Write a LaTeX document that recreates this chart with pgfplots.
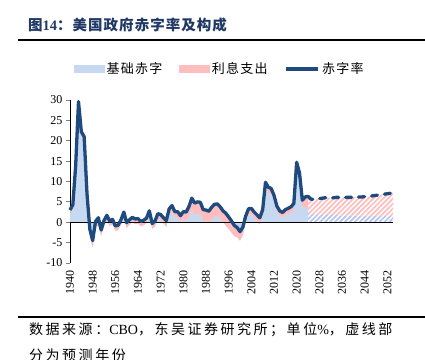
\documentclass[border=0pt]{standalone}
\usepackage{pgfplots}
\pgfplotsset{compat=1.18}
\usepackage{pgfplotstable}
\usepgfplotslibrary{fillbetween}
\usetikzlibrary{patterns.meta}
\usepackage{fontspec}
\setmainfont{Liberation Serif}
\newfontfamily\cjk{Noto Sans CJK SC}
\newfontfamily\cjktitle[LetterSpace=7]{Noto Sans CJK SC}
\newfontfamily\cjkleg[LetterSpace=10]{Noto Sans CJK SC}
\newfontfamily\cjkfoot[LetterSpace=18]{Noto Sans CJK SC}
\definecolor{cBlue}{HTML}{C6D9F1}
\definecolor{cPink}{HTML}{FFBDBD}
\definecolor{cLine}{HTML}{1F4A7E}
\definecolor{cTitle}{HTML}{1F3864}

\pgfplotstableread{
year def prim
1940 3.0 2.1
1941 4.3 3.5
1942 13.9 13.2
1943 29.6 28.7
1944 22.2 20.9
1945 21.0 19.5
1946 7.0 5.2
1947 -1.7 -3.4
1948 -4.5 -6.1
1949 0.2 -1.3
1950 1.1 -0.6
1951 -1.9 -3.3
1952 0.4 -0.9
1953 1.7 0.5
1954 0.3 -0.9
1955 0.7 -0.5
1956 -0.9 -2.1
1957 -0.7 -1.9
1958 0.6 -0.6
1959 2.5 1.3
1960 -0.1 -1.4
1961 0.6 -0.6
1962 1.2 0.0
1963 0.8 -0.4
1964 0.9 -0.3
1965 0.2 -1.0
1966 0.5 -0.7
1967 1.0 -0.2
1968 2.8 1.6
1969 -0.3 -1.6
1970 0.3 -1.1
1971 2.1 0.8
1972 1.9 0.6
1973 1.1 -0.3
1974 0.4 -1.1
1975 3.3 1.8
1976 4.1 2.6
1977 2.6 1.2
1978 2.6 1.1
1979 1.6 0.0
1980 2.6 0.7
1981 2.5 0.3
1982 3.9 1.3
1983 5.9 3.3
1984 4.7 1.8
1985 5.0 2.0
1986 4.9 2.0
1987 3.1 0.3
1988 3.0 0.2
1989 2.7 -0.2
1990 3.7 0.7
1991 4.4 1.4
1992 4.5 1.6
1993 3.8 1.0
1994 2.8 0.1
1995 2.2 -0.8
1996 1.3 -1.6
1997 0.3 -2.5
1998 -0.8 -3.4
1999 -1.3 -3.6
2000 -2.3 -4.5
2001 -1.2 -3.1
2002 1.5 -0.1
2003 3.3 1.9
2004 3.4 2.1
2005 2.5 1.1
2006 1.8 0.2
2007 1.1 -0.5
2008 3.1 1.5
2009 9.8 8.5
2010 8.6 7.3
2011 8.3 6.8
2012 6.6 5.2
2013 4.0 2.7
2014 2.8 1.5
2015 2.4 1.2
2016 3.1 1.8
2017 3.4 2.0
2018 3.8 2.2
2019 4.6 2.9
2020 14.7 13.1
2021 12.1 10.6
2022 5.4 3.5
2023 6.2 3.8
2024 6.4 3.3
}\hist

\pgfplotstableread{
year def prim
2024 6.4 2.0
2025 5.7 2.0
2026 5.6 2.0
2027 5.7 2.0
2028 5.8 1.9
2029 5.9 1.9
2030 6.0 1.9
2031 6.0 1.8
2032 6.0 1.8
2033 6.0 1.8
2034 6.1 1.8
2035 6.1 1.7
2036 6.1 1.7
2037 6.1 1.7
2038 6.1 1.7
2039 6.1 1.7
2040 6.1 1.6
2041 6.2 1.6
2042 6.2 1.6
2043 6.2 1.6
2044 6.3 1.6
2045 6.3 1.6
2046 6.4 1.5
2047 6.5 1.5
2048 6.6 1.5
2049 6.7 1.5
2050 6.8 1.5
2051 6.9 1.5
2052 7.0 1.5
2053 7.1 1.5
2054 7.3 1.5
}\proj

\begin{document}
\begin{tikzpicture}
% title
\node[anchor=west, inner sep=0, text=cTitle, font=\fontsize{14.5}{14.5}\selectfont\bfseries] at (28pt,334pt)
  {{\cjktitle 图}14{\cjktitle ：美国政府赤字率及构成}};
\draw[line width=1.5pt] (18pt,319pt) -- (425pt,319pt);
% footer
\draw[line width=1.5pt] (18pt,42pt) -- (425pt,42pt);
\node[anchor=west, inner sep=0, font=\fontsize{14}{14}\selectfont] at (29pt,29pt)
  {{\cjkfoot 数据来源：}CBO{\cjkfoot ，东吴证券研究所；单位}\%{\cjkfoot ，虚线部}};
\node[anchor=west, inner sep=0, font=\fontsize{14}{14}\selectfont] at (29pt,4pt)
  {{\cjkfoot 分为预测年份}};

\begin{axis}[
  at={(70pt,96pt)}, anchor=south west,
  scale only axis, width=323pt, height=163pt,
  xmin=1940, xmax=2054, ymin=-10, ymax=30,
  axis lines*=left,
  x axis line style={draw=none},
  xtick={1940,1948,...,2052},
  xtick style={draw=none},
  ytick={-10,-5,...,30},
  tick align=outside,
  major tick length=4pt,
  y axis line style={line width=0.8pt},
  ytick style={line width=0.8pt},
  clip=false,
  /pgf/number format/assume math mode=true,
  /pgf/number format/1000 sep={},
  tick label style={font=\fontsize{12}{12}\selectfont},
  xticklabel style={rotate=90, anchor=east},
  legend style={at={(0.464,1.19)}, anchor=center, draw=none, fill=none,
    legend columns=3, font=\fontsize{13}{13}\selectfont\cjkleg,
    /tikz/every even column/.append style={column sep=15pt}},
]
\addlegendimage{legend image code/.code={\fill[cBlue] (0pt,-3.5pt) rectangle (30pt,3.5pt);}}
\addlegendentry{基础赤字}
\addlegendimage{legend image code/.code={\fill[cPink] (0pt,-3.5pt) rectangle (30pt,3.5pt);}}
\addlegendentry{利息支出}
\addlegendimage{legend image code/.code={\draw[cLine, line width=3.3pt] (0pt,0pt) -- (32pt,0pt);}}
\addlegendentry{赤字率}

\addplot[draw=none, name path=zA, forget plot] coordinates {(1940,0) (2024,0)};
\addplot[draw=none, name path=pA, forget plot] table[x=year,y=prim]{\hist};
\addplot[draw=none, name path=dA, forget plot] table[x=year,y=def]{\hist};
\addplot[fill=cBlue, draw=none, forget plot] fill between[of=pA and zA];
\addplot[fill=cPink, draw=none, forget plot] fill between[of=dA and pA];

\addplot[draw=none, name path=zB, forget plot] coordinates {(2024,0) (2054,0)};
\addplot[draw=none, name path=pB, forget plot] table[x=year,y=prim]{\proj};
\addplot[draw=none, name path=dB, forget plot] table[x=year,y=def]{\proj};
\addplot[pattern={Lines[angle=45,distance=3.5pt,line width=1.7pt]}, pattern color=cBlue!90!blue, draw=none, forget plot] fill between[of=pB and zB];
\addplot[pattern={Lines[angle=45,distance=3.5pt,line width=1.7pt]}, pattern color=cPink, draw=none, forget plot] fill between[of=dB and pB];

\draw[black, line width=1pt] (axis cs:1940,0) -- (axis cs:2054,0);

\addplot[cLine, line width=3.3pt, line join=round, forget plot] table[x=year,y=def]{\hist};
\addplot[cLine, line width=3.3pt, line cap=round, dash pattern=on 6pt off 7pt, forget plot] table[x=year,y=def]{\proj};
\end{axis}
\pgfresetboundingbox
\useasboundingbox (0pt,0pt) rectangle (425pt,359pt);
\end{tikzpicture}
\end{document}
